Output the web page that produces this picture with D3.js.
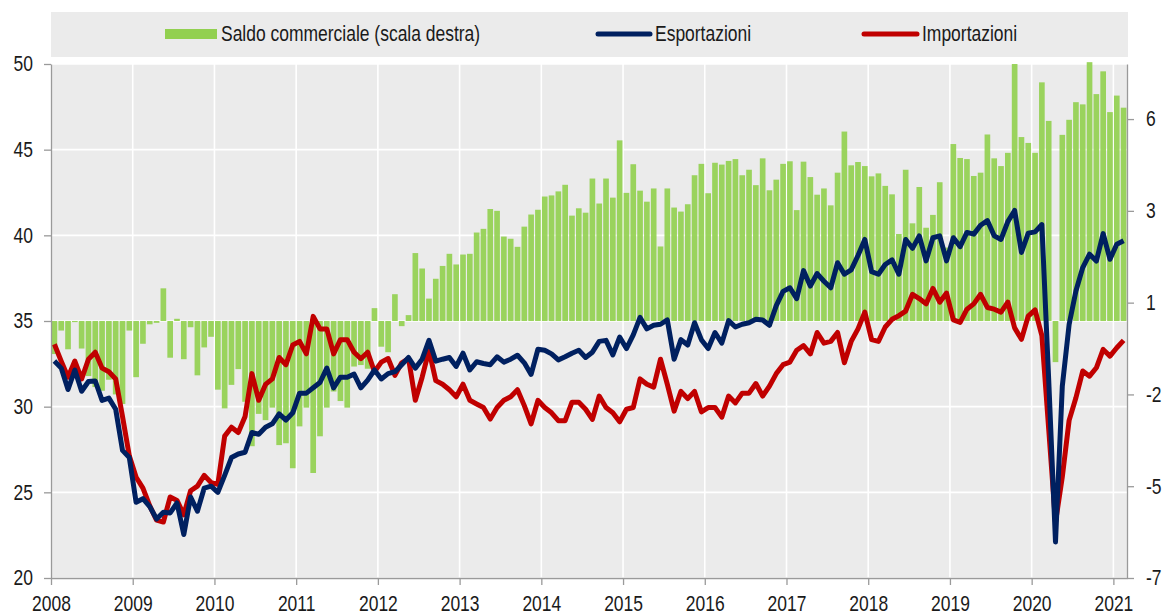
<!DOCTYPE html>
<html>
<head>
<meta charset="utf-8">
<script src="https://cdn.jsdelivr.net/npm/d3@7"></script>
<style>
  body { margin: 0; background: #fff; }
  text { font-family: "Liberation Sans", Arial, sans-serif; fill: #1a1a1a; }
</style>
</head>
<body>
<svg id="chart" width="1164" height="615"></svg>
<script>
// monthly, jan 2008 - feb 2021
var yearLabels = [2008, 2009, 2010, 2011, 2012, 2013, 2014, 2015, 2016, 2017, 2018, 2019, 2020, 2021];
var leftTicks = [20, 25, 30, 35, 40, 45, 50];
var rightTicks = [-7, -4.5, -2, 0.5, 3, 5.5];

var exportsData = [
  32.66, 32.25, 31.0, 32.14, 30.9, 31.47, 31.5, 30.37, 30.5, 29.85, 27.45, 27.03,
  24.42, 24.63, 24.17, 23.44, 23.84, 23.8, 24.38, 22.54, 24.73, 23.9, 25.25, 25.36,
  25.0, 25.99, 27.03, 27.24, 27.34, 28.49, 28.39, 28.8, 29.0, 29.58, 29.22, 29.64,
  30.79, 30.79, 31.1, 31.41, 32.25, 31.1, 31.72, 31.72, 31.9, 31.1, 31.55, 32.14,
  31.62, 31.93, 32.04, 32.45, 32.87, 32.25, 32.77, 33.87, 32.66, 32.77, 32.87, 32.35,
  33.12, 32.14, 32.62, 32.52, 32.45, 32.91, 32.6, 32.77, 33.0, 32.56, 31.88, 33.35,
  33.29, 33.08, 32.73, 32.91, 33.12, 33.29, 32.87, 33.18, 33.81, 33.87, 33.02, 34.06,
  33.39, 34.19, 35.21, 34.54, 34.75, 34.81, 35.06, 32.77, 33.91, 33.6, 34.9, 33.91,
  33.39, 34.33, 33.71, 35.02, 34.65, 34.81, 34.9, 35.1, 35.06, 34.75, 35.9, 36.73,
  36.94, 36.31, 37.94, 37.04, 37.77, 37.32, 36.94, 38.4, 37.73, 37.98, 38.82, 39.76,
  37.88, 37.73, 38.3, 38.57, 37.73, 39.76, 39.24, 39.97, 38.51, 39.86, 39.97, 38.51,
  39.86, 39.34, 40.17, 40.07, 40.59, 40.86, 39.97, 39.76, 40.8, 41.45, 39.0, 40.13,
  40.2, 40.63, 31.6, 22.1, 31.2, 34.8, 36.75, 38.12, 38.9, 38.5, 40.1, 38.6,
  39.48, 39.68
];

var importsData = [
  33.64, 32.66, 31.72, 32.66, 31.62, 32.77, 33.18, 32.25, 32.04, 31.62, 29.43, 27.13,
  25.88, 25.25, 24.21, 23.38, 23.27, 24.73, 24.53, 23.69, 25.09, 25.36, 25.99, 25.57,
  25.46, 28.28, 28.8, 28.49, 29.43, 31.93, 30.37, 31.3, 31.62, 32.87, 32.45, 33.6,
  33.81, 33.08, 35.27, 34.54, 34.54, 33.08, 33.91, 33.91, 33.18, 32.8, 33.18, 32.04,
  32.6, 32.81, 31.83, 32.56, 32.81, 30.37, 31.72, 33.29, 31.52, 31.31, 30.99, 30.58,
  31.31, 30.37, 30.16, 29.95, 29.28, 29.95, 30.37, 30.58, 30.99, 30.06, 29.0, 30.37,
  29.95, 29.64, 29.18, 29.18, 30.26, 30.26, 29.85, 29.26, 30.62, 29.95, 29.64, 29.12,
  29.85, 29.95, 31.62, 31.31, 31.14, 32.77, 31.31, 29.74, 30.89, 30.47, 30.89, 29.7,
  29.95, 29.95, 29.39, 30.62, 30.22, 30.79, 30.79, 31.35, 30.62, 31.2, 31.93, 32.45,
  32.6, 33.29, 33.56, 33.08, 34.33, 33.71, 33.81, 34.33, 32.56, 33.81, 34.54, 35.52,
  33.91, 33.81, 34.65, 35.1, 35.31, 35.58, 36.56, 36.31, 36.0, 36.9, 36.1, 36.63,
  35.06, 34.92, 35.69, 36.0, 36.56, 35.79, 35.69, 35.52, 36.1, 34.6, 33.93, 35.29,
  35.65, 34.15, 28.7, 23.25, 25.9, 29.2, 30.52, 32.08, 31.78, 32.27, 33.34, 32.95,
  33.44, 33.87
];

// saldo, right scale
var balanceData = [
  -0.9, -0.26, -0.77, -0.03, -0.75, -1.5, -1.8, -1.9, -1.6, -2.0, -2.26, -0.26,
  -1.53, -0.62, -0.09, -0.05, 0.89, -1.0, 0.06, -1.04, -0.17, -1.48, -0.72, -0.43,
  -1.87, -2.38, -1.74, -1.31, -2.2, -3.41, -2.53, -2.7, -2.36, -3.38, -3.33, -4.01,
  -2.87, -2.36, -4.14, -3.14, -2.36, -1.92, -2.18, -2.36, -1.24, -1.2, -1.3, 0.35,
  -0.7, -0.85, 0.73, -0.14, 0.16, 1.85, 1.43, 0.61, 1.15, 1.5, 1.83, 1.54,
  1.81, 1.83, 2.41, 2.51, 3.05, 3.0, 2.3, 2.24, 2.02, 2.57, 2.9, 3.03,
  3.39, 3.42, 3.53, 3.71, 2.87, 3.07, 2.95, 3.88, 3.2, 3.88, 3.36, 4.92,
  3.49, 4.27, 3.55, 3.25, 3.61, 2.03, 3.61, 3.09, 2.98, 3.18, 3.97, 4.28,
  3.48, 4.31, 4.26, 4.36, 4.41, 3.97, 4.12, 3.7, 4.43, 3.56, 3.85, 4.28,
  4.35, 3.02, 4.34, 3.92, 3.44, 3.61, 3.15, 4.04, 5.16, 4.24, 4.33, 4.22,
  3.94, 4.02, 3.68, 3.45, 2.37, 4.12, 2.66, 3.65, 2.54, 2.89, 3.78, 2.0,
  4.82, 4.44, 4.41, 3.95, 4.04, 5.08, 4.43, 4.22, 4.58, 7.0, 5.01, 4.85,
  4.58, 6.5, 5.45, -1.12, 5.07, 5.48, 5.96, 5.9, 7.05, 6.18, 6.8, 5.69,
  6.14, 5.81
];

var legendLabels = ["Saldo commerciale (scala destra)", "Esportazioni", "Importazioni"];

var colours = { balance: "#92d050", exports: "#002060", imports: "#c00000",
                plotBg: "#ebebeb", axis: "#9a9a9a" };

var plot = { left: 51, right: 1127, top: 64, bottom: 578 };
var fontSize = "21.3px";
var narrow = 0.82;   // no narrow font installed - squeeze glyphs instead

var svg = d3.select("#chart");

var nMonths = exportsData.length;
var x = d3.scaleBand()
  .domain(d3.range(nMonths))
  .range([plot.left, plot.right])
  .paddingInner(0.17)
  .paddingOuter(0.085);

// year position on the same grid as the bands
var xYear = d3.scaleLinear()
  .domain([yearLabels[0], yearLabels[0] + nMonths / 12])
  .range([plot.left, plot.right]);

var yLeft = d3.scaleLinear().domain([20, 50]).range([plot.bottom, plot.top]);
var yRight = d3.scaleLinear().domain([-7, 7]).range([plot.bottom, plot.top]);

// legend band
var legend = svg.append("g");
legend.append("rect")
  .attr("x", plot.left).attr("y", 12)
  .attr("width", plot.right - plot.left + 1).attr("height", 45)
  .attr("fill", colours.plotBg);

legend.append("rect")
  .attr("x", 165).attr("y", 29).attr("width", 52).attr("height", 10)
  .attr("fill", colours.balance);
legend.append("text")
  .attr("x", 221).attr("y", 34).attr("dy", "0.35em")
  .style("font-size", fontSize)
  .text(legendLabels[0]);

legend.append("line")
  .attr("x1", 598).attr("x2", 650).attr("y1", 34).attr("y2", 34)
  .attr("stroke", colours.exports).attr("stroke-width", 5).attr("stroke-linecap", "round");
legend.append("text")
  .attr("x", 655).attr("y", 34).attr("dy", "0.35em")
  .style("font-size", fontSize)
  .text(legendLabels[1]);

legend.append("line")
  .attr("x1", 864).attr("x2", 917).attr("y1", 34).attr("y2", 34)
  .attr("stroke", colours.imports).attr("stroke-width", 5).attr("stroke-linecap", "round");
legend.append("text")
  .attr("x", 922).attr("y", 34).attr("dy", "0.35em")
  .style("font-size", fontSize)
  .text(legendLabels[2]);

// plot background + grid
svg.append("rect")
  .attr("x", plot.left).attr("y", plot.top)
  .attr("width", plot.right - plot.left).attr("height", plot.bottom - plot.top)
  .attr("fill", colours.plotBg);

svg.append("g")
  .selectAll("line")
  .data(leftTicks)
  .enter()
  .append("line")
  .attr("x1", plot.left).attr("x2", plot.right)
  .attr("y1", function (d) { return yLeft(d); })
  .attr("y2", function (d) { return yLeft(d); })
  .attr("stroke", "#fff").attr("stroke-width", 1.6);

svg.append("g")
  .selectAll("line")
  .data(yearLabels.slice(1))
  .enter()
  .append("line")
  .attr("x1", function (d) { return xYear(d); })
  .attr("x2", function (d) { return xYear(d); })
  .attr("y1", plot.top).attr("y2", plot.bottom)
  .attr("stroke", "#fff").attr("stroke-width", 1.6);

// bars - saldo
svg.append("g")
  .selectAll("rect")
  .data(balanceData)
  .enter()
  .append("rect")
  .attr("x", function (d, i) { return x(i); })
  .attr("width", x.bandwidth())
  .attr("y", function (d) { return Math.min(yRight(d), yRight(0)); })
  .attr("height", function (d) { return Math.abs(yRight(d) - yRight(0)); })
  .attr("fill", colours.balance)
  .attr("fill-opacity", 0.92);

// lines
var lineGen = function (scale) {
  return d3.line()
    .x(function (d, i) { return x(i) + x.bandwidth() / 2; })
    .y(function (d) { return scale(d); });
};

svg.append("path")
  .datum(importsData)
  .attr("d", lineGen(yLeft))
  .attr("fill", "none")
  .attr("stroke", colours.imports)
  .attr("stroke-width", 5)
  .attr("stroke-linejoin", "round");

svg.append("path")
  .datum(exportsData)
  .attr("d", lineGen(yLeft))
  .attr("fill", "none")
  .attr("stroke", colours.exports)
  .attr("stroke-width", 5)
  .attr("stroke-linejoin", "round");

// axes
var leftAxis = svg.append("g")
  .attr("transform", "translate(" + plot.left + ",0)")
  .call(d3.axisLeft(yLeft).tickValues(leftTicks).tickSize(7).tickPadding(11).tickSizeOuter(0));

var rightAxis = svg.append("g")
  .attr("transform", "translate(" + plot.right + ",0)")
  .call(d3.axisRight(yRight).tickValues(rightTicks).tickSize(7).tickPadding(12).tickSizeOuter(0)
    .tickFormat(function (d) { return (d < 0 ? "-" : "") + Math.round(Math.abs(d)); }));  // excel style rounding

var bottomAxis = svg.append("g")
  .attr("transform", "translate(0," + plot.bottom + ")")
  .call(d3.axisBottom(xYear).tickValues(yearLabels).tickSize(7).tickPadding(11).tickSizeOuter(0)
    .tickFormat(d3.format("d")));

[leftAxis, rightAxis, bottomAxis].forEach(function (g) {
  g.selectAll("path, line").attr("stroke", colours.axis).attr("stroke-width", 1.3);
  g.selectAll("text")
    .attr("fill", "#1a1a1a")
    .style("font-size", fontSize)
    .style("font-family", "\"Liberation Sans\", Arial, sans-serif");
});

// condensed look
svg.selectAll("text").each(function () {
  var w = this.getComputedTextLength();
  d3.select(this)
    .attr("textLength", w * narrow)
    .attr("lengthAdjust", "spacingAndGlyphs");
});
</script>
</body>
</html>
